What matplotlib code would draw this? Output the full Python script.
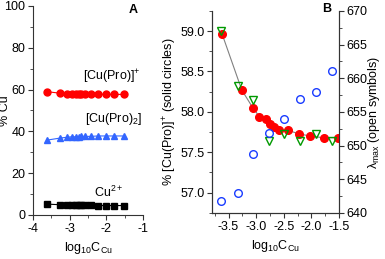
import matplotlib
matplotlib.use('Agg')
from matplotlib import pyplot as plt
from matplotlib.ticker import MultipleLocator

plt.rcParams['font.family'] = ['Liberation Sans', 'DejaVu Sans']
plt.rcParams['mathtext.fontset'] = 'custom'
plt.rcParams['mathtext.rm'] = 'Liberation Sans'
plt.rcParams['mathtext.it'] = 'Liberation Sans'
plt.rcParams['font.size'] = 9
plt.rcParams['axes.unicode_minus'] = False

# log10 C_Cu values
logc = [-3.62, -3.26, -3.06, -2.94, -2.83, -2.75, -2.68, -2.58, -2.42, -2.23, -2.02, -1.78, -1.52]

# panel A: species distribution (% Cu)
cu_pro = [58.97, 58.27, 58.05, 57.94, 57.91, 57.85, 57.81, 57.77, 57.77, 57.73, 57.70, 57.68, 57.68]
cu_pro2 = [35.8, 36.8, 37.2, 37.4, 37.4, 37.5, 37.6, 37.6, 37.6, 37.8, 37.8, 37.8, 37.8]
cu_free = [5.2, 4.9, 4.8, 4.7, 4.7, 4.6, 4.6, 4.6, 4.6, 4.5, 4.5, 4.5, 4.5]

# panel B: lambda max (open symbols)
logc_lam = [-3.63, -3.33, -3.05, -2.77, -2.49, -2.20, -1.92, -1.63]
lam_tri = [667.0, 658.8, 656.8, 650.7, 651.7, 650.7, 651.7, 650.7]
lam_circ = [641.8, 643.0, 648.8, 651.9, 653.9, 656.9, 658.0, 661.0]

spine_col = '#333333'

fig = plt.figure(figsize=(3.85, 2.59), dpi=100)

# ---- panel A ----
axA = fig.add_axes([0.0857, 0.170, 0.2857, 0.807])
axA.plot(logc, cu_pro, '-o', color='#ff0000', ms=5, lw=0.8)
axA.plot(logc, cu_pro2, '-^', color='#3366ff', ms=5, lw=0.8)
axA.plot(logc, cu_free, '-s', color='black', ms=4.5, lw=0.8)
axA.set_xlim(-4, -1)
axA.set_ylim(0, 100)
axA.xaxis.set_major_locator(MultipleLocator(1))
axA.xaxis.set_minor_locator(MultipleLocator(0.5))
axA.yaxis.set_major_locator(MultipleLocator(20))
axA.yaxis.set_minor_locator(MultipleLocator(10))
axA.spines['top'].set_visible(False)
axA.spines['right'].set_visible(False)
axA.set_ylabel('% Cu')
axA.yaxis.set_label_coords(-0.2, 0.5)
axA.set_xlabel(r'log$_{10}$C$_{\mathrm{Cu}}$', labelpad=4)
axA.text(-1.27, 98, 'A', fontweight='bold', ha='center', va='center')
axA.text(-1.07, 66, r'[Cu(Pro)]$^{+}$', ha='right', va='center')
axA.text(-1.03, 46, r'[Cu(Pro)$_{2}$]', ha='right', va='center')
axA.text(-1.55, 11, r'Cu$^{2+}$', ha='right', va='center')

# ---- panel B ----
axB = fig.add_axes([0.5506, 0.178, 0.330, 0.780])
axB.plot(logc, cu_pro, '-', color='gray', lw=0.8, zorder=1)
axB.plot(logc, cu_pro, 'o', color='#ff0000', ms=5.5, zorder=3)
axB.set_xlim(-3.8, -1.5)
axB.set_ylim(56.75, 59.25)
axB.xaxis.set_major_locator(MultipleLocator(0.5))
axB.xaxis.set_minor_locator(MultipleLocator(0.25))
axB.yaxis.set_major_locator(MultipleLocator(0.5))
axB.yaxis.set_minor_locator(MultipleLocator(0.25))
axB.yaxis.set_major_formatter(plt.FormatStrFormatter('%.1f'))
axB.xaxis.set_major_formatter(plt.FormatStrFormatter('%.1f'))
axB.spines['top'].set_visible(False)
axB.set_ylabel(r'% [Cu(Pro)]$^{+}$ (solid circles)')
axB.yaxis.set_label_coords(-0.26, 0.5)
axB.set_xlabel(r'log$_{10}$C$_{\mathrm{Cu}}$', labelpad=4)
axB.text(-1.72, 59.27, 'B', fontweight='bold', ha='center', va='center')

axR = axB.twinx()
axR.plot(logc_lam, lam_tri, 'v', mfc='none', mec='#009900', mew=1.0, ms=6, zorder=4)
axR.plot(logc_lam, lam_circ, 'o', mfc='none', mec='#1a3cff', mew=1.0, ms=5.5, zorder=4)
axR.set_ylim(640, 670)
axR.yaxis.set_major_locator(MultipleLocator(5))
axR.yaxis.set_minor_locator(MultipleLocator(2.5))
axR.spines['top'].set_visible(False)
axR.set_ylabel(r'$\lambda_{\mathrm{max}}$ (open symbols)')
axR.yaxis.set_label_coords(1.215, 0.5)

for ax in [axA, axB, axR]:
    for s in ax.spines.values():
        s.set_color(spine_col)
        s.set_linewidth(0.8)
    ax.tick_params(which='major', length=3.5, width=0.8, color=spine_col, pad=2)
    ax.tick_params(which='minor', length=2, width=0.6, color=spine_col)

fig.savefig('out.png', dpi=100)
